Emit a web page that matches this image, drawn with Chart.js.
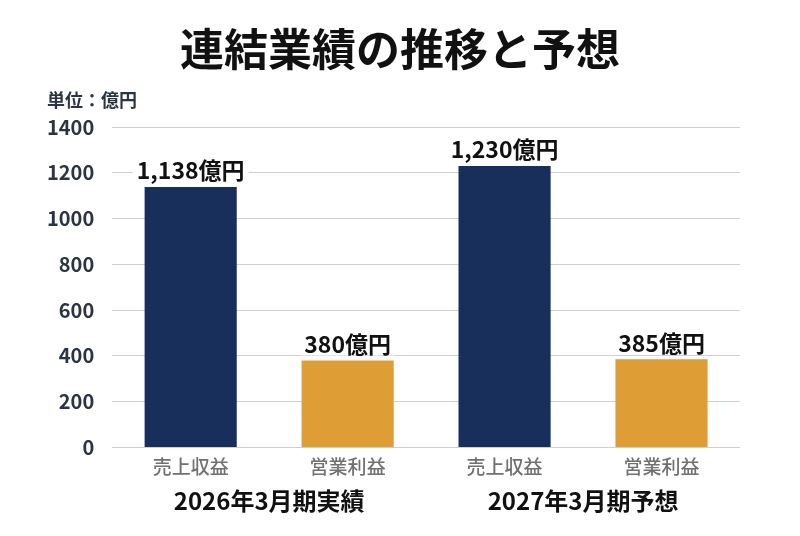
<!DOCTYPE html>
<html><head><meta charset="utf-8">
<script src="https://cdn.jsdelivr.net/npm/chart.js@4.4.1/dist/chart.umd.min.js"></script>
<style>html,body{margin:0;padding:0;background:#fff}#wrap{width:800px;height:536px}</style>
</head><body><div id="wrap"><canvas id="c" width="800" height="536"></canvas></div>
<script>
const categories = ['売上収益', '営業利益', '売上収益', '営業利益'];
const groups = ['2026年3月期実績', '2027年3月期予想'];
const values = [1138, 380, 1230, 385];
const barColors = ['#172f5a', '#df9d36', '#172f5a', '#df9d36'];
const titleText = '連結業績の推移と予想';
const unitText = '単位：億円';
const labelSuffix = '億円';
const FONT = '"Noto Sans CJK JP", "Noto Sans", sans-serif';

const extras = {
  id: 'extras',
  afterDatasetsDraw(chart) {
    const ctx = chart.ctx;
    const meta = chart.getDatasetMeta(0);
    ctx.save();
    ctx.font = 'bold 23px ' + FONT;
    ctx.textAlign = 'center';
    ctx.textBaseline = 'bottom';
    meta.data.forEach((bar, i) => {
      const t = values[i].toLocaleString('en-US') + labelSuffix;
      const w = ctx.measureText(t).width;
      const y = bar.y - 5;
      ctx.fillStyle = '#fff';
      ctx.fillRect(bar.x - w / 2 - 4, y - 27, w + 8, 27);
      ctx.fillStyle = '#111';
      ctx.fillText(t, bar.x, y);
    });
    ctx.font = 'bold 18px ' + FONT;
    ctx.textAlign = 'left';
    ctx.textBaseline = 'middle';
    ctx.fillStyle = '#2b3444';
    ctx.fillText(unitText, 47, 100);
    ctx.font = 'bold 44px ' + FONT;
    ctx.textAlign = 'center';
    ctx.fillStyle = '#111';
    ctx.fillText(titleText, chart.width / 2, 49);
    ctx.restore();
  }
};

new Chart(document.getElementById('c'), {
  type: 'bar',
  data: {
    labels: categories,
    datasets: [{
      data: values,
      backgroundColor: barColors,
      xAxisID: 'x',
      barPercentage: 0.587,
      categoryPercentage: 1
    }]
  },
  options: {
    responsive: false,
    animation: false,
    devicePixelRatio: 1,
    layout: { padding: { left: 29, right: 60, top: 127, bottom: 21 } },
    plugins: {
      legend: { display: false },
      tooltip: { enabled: false },
      title: { display: false }
    },
    scales: {
      x: {
        type: 'category',
        labels: categories,
        grid: { display: false },
        border: { display: false },
        ticks: { color: '#707070', font: { family: FONT, size: 19, weight: '500' }, padding: 0 }
      },
      x2: {
        type: 'category',
        labels: groups,
        position: 'bottom',
        grid: { display: false },
        border: { display: false },
        ticks: { color: '#111', font: { family: FONT, size: 24, weight: 'bold' }, padding: 0 }
      },
      y: {
        min: 0, max: 1400,
        ticks: { stepSize: 200, color: '#2b3444', font: { family: FONT, size: 20, weight: 'bold' }, padding: 18,
                 callback: v => String(v) },
        grid: { color: '#cfcfcf', drawTicks: false, lineWidth: 1 },
        border: { display: false }
      }
    }
  },
  plugins: [extras]
});
</script></body></html>
